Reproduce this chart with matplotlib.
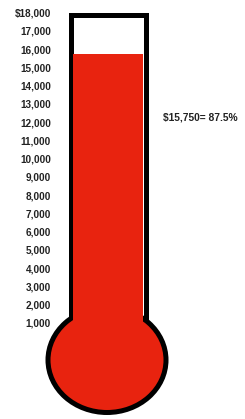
import matplotlib.pyplot as plt
from matplotlib.patches import Ellipse, Rectangle

# data
goal = 18000
raised = 15750
tick_values = list(range(1000, 19000, 1000))
tick_labels = ['{:,}'.format(v) for v in tick_values]
tick_labels[-1] = '$' + tick_labels[-1]

red = '#e8230f'
px = 1000 / 18.24  # dollars per pixel on y

fig = plt.figure(figsize=(2.45, 4.19), dpi=100)
ax = fig.add_axes([53 / 245, 0, 192 / 245, 1])
ax.set_xlim(53, 245)
ax.set_ylim(-78 * px, 341 * px)

# tube outline
ax.add_patch(Rectangle((70.5, -1000), 75, goal - 2.5 * px + 1000,
                       facecolor='white', edgecolor='black', linewidth=3.6,
                       zorder=1, clip_on=False))
# bulb
bulb_y = -19 * px
ax.add_patch(Ellipse((107, bulb_y), 118, 105 * px,
                     facecolor=red, edgecolor='black', linewidth=3.6,
                     zorder=2, clip_on=False))
# mercury column
ax.add_patch(Rectangle((73, bulb_y), 70, raised - bulb_y,
                       facecolor=red, edgecolor='none', zorder=3, clip_on=False))

ax.set_yticks(tick_values)
ax.set_yticklabels(tick_labels, fontsize=7.2, fontweight='bold',
                   family='Liberation Sans', color='#222222')
ax.tick_params(axis='y', length=0, pad=1.5)
ax.set_xticks([])
for s in ax.spines.values():
    s.set_visible(False)

ax.text(163, 12226, '${:,}= {:.1f}%'.format(raised, raised / goal * 100),
        fontsize=7.4, fontweight='bold', family='Liberation Sans',
        color='#222222', va='center', ha='left')

fig.savefig('out.png', dpi=100)
